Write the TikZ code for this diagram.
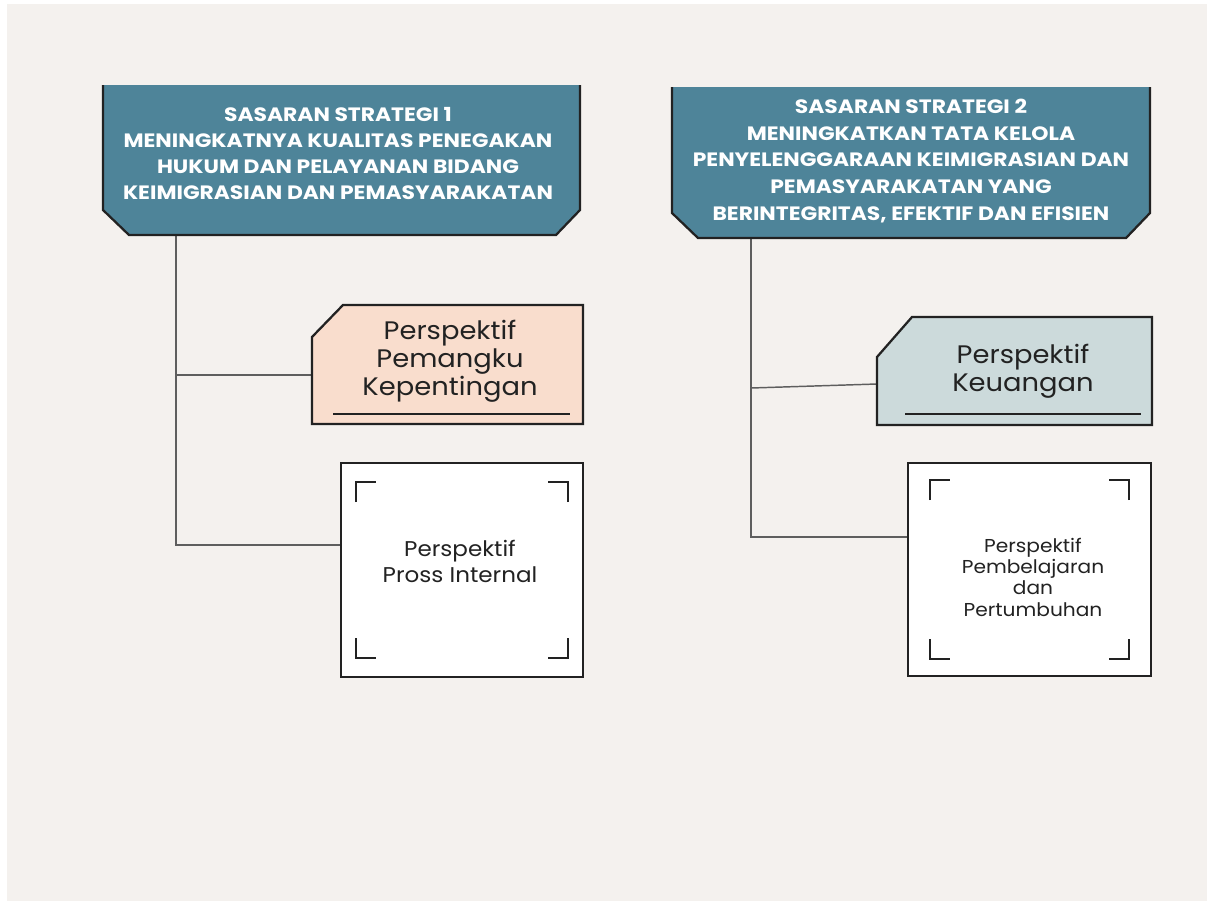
\documentclass[tikz,border=0pt]{standalone}
\usepackage{fontspec}
\setmainfont{Poppins}[FakeStretch=1.08, BoldFeatures={FakeStretch=1.13}]
\usetikzlibrary{calc}

\definecolor{bgcream}{HTML}{F4F1EE}
\definecolor{headteal}{HTML}{4E8499}
\definecolor{peach}{HTML}{F9DDCD}
\definecolor{slate}{HTML}{CCDADB}
\definecolor{ink}{HTML}{222222}
\definecolor{linkgray}{HTML}{5E5E5E}

\tikzset{
  area/.style={rectangle, inner sep=0pt, outer sep=0pt},
  outline/.style={draw=ink, line width=1.7pt, line join=miter},
  link/.style={draw=linkgray, line width=1.1pt},
  headtext/.style={text=white, align=center, font=\bfseries\fontsize{14.5}{19.5}\selectfont},
  tagtext/.style={text=ink, align=center, font=\fontsize{19}{21}\selectfont},
  cardtext/.style={text=ink, align=center},
}

\begin{document}
\begin{tikzpicture}[x=0.75pt, y=-0.75pt]
  \useasboundingbox (0,0) rectangle (1207,901);
  \fill[white] (0,0) rectangle (1207,901);
  \fill[bgcream] (7,4) rectangle (1207,901);

  % anchor areas of the boxes
  \node[area, minimum width=357.75pt, minimum height=112.5pt] (ss1) at (341.5,160) {};
  \node[area, minimum width=358.5pt, minimum height=113.25pt] (ss2) at (911,162.5) {};
  \node[area, minimum width=203.25pt, minimum height=89.25pt] (pk) at (447.5,364.5) {};
  \node[area, minimum width=206.25pt, minimum height=81pt] (ku) at (1014.5,371) {};
  \node[area, minimum width=181.5pt, minimum height=160.5pt] (pi) at (462,570) {};
  \node[area, minimum width=182.25pt, minimum height=159.75pt] (pp) at (1029.5,569.5) {};

  % connectors
  \draw[link] ($(ss1.south west)+(73,0)$) |- ($(pi.west)+(0,-25)$);
  \draw[link] ($(ss1.south west)+(73,140)$) -- ($(pk.west)+(0,10.5)$);
  \draw[link] ($(ss2.south west)+(79,0)$) |- ($(pp.west)+(0,-32.5)$);
  \draw[link] ($(ss2.south west)+(79,150)$) -- ($(ku.west)+(0,13)$);

  % heading boxes
  \foreach \n in {ss1,ss2} {
    \fill[headteal] (\n.north west) -- ($(\n.south west)+(0,-25)$) -- ($(\n.south west)+(26,0)$)
      -- ($(\n.south east)+(-24,0)$) -- ($(\n.south east)+(0,-25)$) -- (\n.north east) -- cycle;
    \draw[outline] (\n.north west) -- ($(\n.south west)+(0,-25)$) -- ($(\n.south west)+(26,0)$)
      -- ($(\n.south east)+(-24,0)$) -- ($(\n.south east)+(0,-25)$) -- (\n.north east);
  }
  \node[headtext] (ss1t) at (338,154) {SASARAN STRATEGI 1\\MENINGKATNYA KUALITAS PENEGAKAN\\HUKUM DAN PELAYANAN BIDANG\\KEIMIGRASIAN DAN PEMASYARAKATAN};
  \node[headtext, font=\bfseries\fontsize{14.5}{20}\selectfont] (ss2t) at (911,161) {SASARAN STRATEGI 2\\MENINGKATKAN TATA KELOLA\\PENYELENGGARAAN KEIMIGRASIAN DAN\\PEMASYARAKATAN YANG\\BERINTEGRITAS, EFEKTIF DAN EFISIEN};

  % perspective tags
  \filldraw[outline, fill=peach] (pk.south west) -- ($(pk.north west)+(0,32)$) -- ($(pk.north west)+(31,0)$)
    -- (pk.north east) -- (pk.south east) -- cycle;
  \draw[ink, line width=1.4pt] ($(pk.south west)+(21,-10)$) -- ($(pk.south east)+(-13,-10)$);
  \filldraw[outline, fill=slate] (ku.south west) -- ($(ku.north west)+(0,40)$) -- ($(ku.north west)+(35,0)$)
    -- (ku.north east) -- (ku.south east) -- cycle;
  \draw[ink, line width=1.4pt] ($(ku.south west)+(28,-11)$) -- ($(ku.south east)+(-11,-11)$);
  \node[tagtext] (pkt) at (450,361) {Perspektif\\Pemangku\\Kepentingan};
  \node[tagtext] (kut) at (1023,371) {Perspektif\\Keuangan};

  % framed cards
  \foreach \b/\ix/\iy in {pi/15/19, pp/22/17} {
    \filldraw[outline, fill=white] (\b.north west) rectangle (\b.south east);
    \draw[ink, line width=1.5pt] ($(\b.north west)+(\ix,\iy+20)$) -- ($(\b.north west)+(\ix,\iy)$) -- ($(\b.north west)+(\ix+20,\iy)$);
    \draw[ink, line width=1.5pt] ($(\b.north east)+(-\ix,\iy+20)$) -- ($(\b.north east)+(-\ix,\iy)$) -- ($(\b.north east)+(-\ix-20,\iy)$);
    \draw[ink, line width=1.5pt] ($(\b.south west)+(\ix,-\iy-20)$) -- ($(\b.south west)+(\ix,-\iy)$) -- ($(\b.south west)+(\ix+20,-\iy)$);
    \draw[ink, line width=1.5pt] ($(\b.south east)+(-\ix,-\iy-20)$) -- ($(\b.south east)+(-\ix,-\iy)$) -- ($(\b.south east)+(-\ix-20,-\iy)$);
  }
  \node[cardtext, font=\fontsize{16}{19.5}\selectfont] (pit) at (460,561) {Perspektif\\Pross Internal};
  \node[cardtext, font=\fontsize{14}{16}\selectfont] (ppt) at (1033,577) {Perspektif\\Pembelajaran\\dan\\Pertumbuhan};
\end{tikzpicture}
\end{document}
